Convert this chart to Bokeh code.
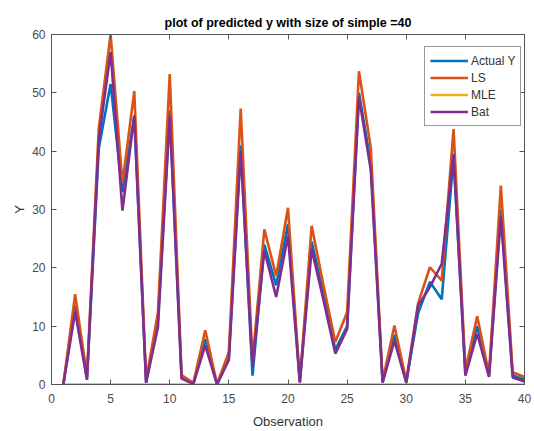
from bokeh.plotting import figure
from bokeh.models import Range1d, LinearAxis, Legend, LegendItem, FixedTicker
from bokeh.embed import file_html
from bokeh.resources import INLINE

obs = list(range(1, 41))
actual_y = [0, 13.5, 1.0, 40.5, 51.5, 33, 46, 0.3, 11, 47,
            1.3, 0.2, 7.8, 0, 4.8, 41, 1.5, 24, 17, 27.5,
            0.4, 24.5, 15.5, 6, 10, 50, 38, 0.4, 8.5, 0.4,
            12.2, 17.6, 14.6, 39, 2, 10, 1.5, 30, 1.6, 0.8]
ls = [0, 15.5, 1.5, 44, 60, 34.5, 50.3, 0.8, 12.3, 53.2,
      1.6, 0.3, 9.3, 0.1, 5.6, 47.3, 4, 26.6, 18.6, 30.3,
      0.6, 27.2, 17, 7.3, 12.4, 53.7, 40.6, 0.6, 10.1, 0.6,
      13.9, 20.1, 17.8, 43.8, 2.5, 11.7, 1.8, 34.1, 2.1, 1.3]
mle = [0] * 40
bat = [0, 12.5, 0.8, 42, 57, 29.8, 46.1, 0.3, 9.8, 46,
       1.0, 0.1, 6.7, 0, 4.2, 40, 3, 23, 15, 25.5,
       0.3, 23.2, 14.5, 5.3, 9.5, 49.3, 36.8, 0.3, 7.5, 0.3,
       13.5, 16.7, 20.7, 39.5, 1.5, 8.7, 1.3, 28.8, 1.2, 0.5]

x_ticks = [0, 5, 10, 15, 20, 25, 30, 35, 40]
y_ticks = [0, 10, 20, 30, 40, 50, 60]

FONT = "Liberation Sans"
AX = "#555555"
TXT = "#4a4a4a"

p = figure(width=534, height=431, output_backend="svg", toolbar_location=None,
           x_range=Range1d(0, 40), y_range=Range1d(0, 60),
           min_border_left=51, min_border_right=10, min_border_top=34, min_border_bottom=47,
           title="plot of predicted y with size of simple =40")
p.title.text_font = FONT
p.title.text_font_size = "12.5px"
p.title.text_font_style = "bold"
p.title.align = "center"
p.title.text_color = "#000000"
p.xgrid.visible = False
p.ygrid.visible = False
p.outline_line_color = AX
p.background_fill_color = "white"
p.border_fill_color = "white"

for ax in (p.xaxis[0], p.yaxis[0]):
    ax.major_label_text_font = FONT
    ax.major_label_text_font_size = "12px"
    ax.major_label_text_color = TXT
    ax.axis_label_text_font = FONT
    ax.axis_label_text_font_size = "13px"
    ax.axis_label_text_font_style = "normal"
    ax.axis_label_text_color = "#333333"
    ax.axis_line_color = AX
    ax.major_tick_line_color = AX
    ax.major_tick_in = 5
    ax.major_tick_out = 0
    ax.minor_tick_line_color = None

p.xaxis[0].ticker = FixedTicker(ticks=x_ticks)
p.yaxis[0].ticker = FixedTicker(ticks=y_ticks)
p.xaxis[0].axis_label = "Observation"
p.yaxis[0].axis_label = "Y"
p.xaxis[0].major_label_standoff = 9
p.xaxis[0].axis_label_standoff = 8
p.yaxis[0].major_label_standoff = 6
p.yaxis[0].axis_label_standoff = 2

top = LinearAxis(ticker=FixedTicker(ticks=x_ticks), major_label_text_font_size="1px",
                 major_label_text_color=None,
                 major_tick_in=5, major_tick_out=0, minor_tick_line_color=None,
                 axis_line_color=AX, major_tick_line_color=AX, major_label_standoff=0)
right = LinearAxis(ticker=FixedTicker(ticks=y_ticks), major_label_text_font_size="1px",
                   major_label_text_color=None,
                   major_tick_in=5, major_tick_out=0, minor_tick_line_color=None,
                   axis_line_color=AX, major_tick_line_color=AX, major_label_standoff=0)
p.add_layout(top, "above")
p.add_layout(right, "right")

LW = 2.6
r1 = p.line(obs, actual_y, line_color="#0072BD", line_width=LW)
r2 = p.line(obs, ls, line_color="#D95319", line_width=LW)
r3 = p.line(obs, mle, line_color="#EDB120", line_width=LW)
r4 = p.line(obs, bat, line_color="#7E2F8E", line_width=LW)

legend = Legend(items=[LegendItem(label="Actual Y", renderers=[r1]),
                       LegendItem(label="LS", renderers=[r2]),
                       LegendItem(label="MLE", renderers=[r3]),
                       LegendItem(label="Bat", renderers=[r4])],
                location=(373, 258))
legend.label_text_font = FONT
legend.label_text_font_size = "12px"
legend.label_text_color = "#333333"
legend.glyph_width = 38
legend.glyph_height = 17
legend.label_height = 17
legend.spacing = 0
legend.padding = 5
legend.margin = 0
legend.label_standoff = 3
legend.border_line_color = "#333333"
legend.border_line_width = 1
legend.background_fill_color = "white"
legend.background_fill_alpha = 1
p.add_layout(legend)

open("out.html", "w").write(file_html(p, INLINE))
